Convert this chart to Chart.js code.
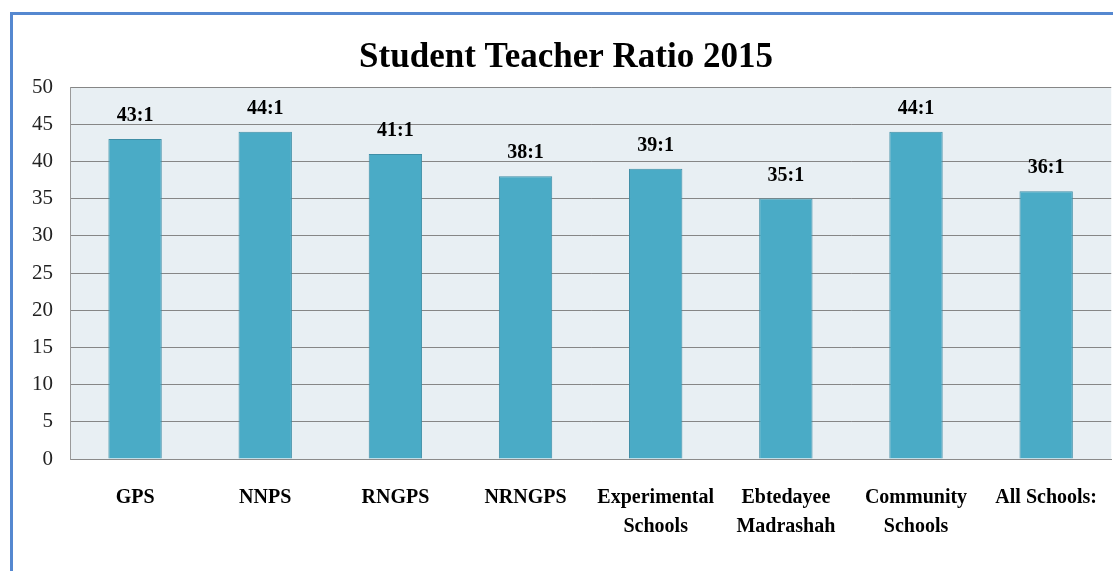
<!DOCTYPE html>
<html lang="en">
<head>
    <meta charset="UTF-8">
    <title>Student Teacher Ratio 2015</title>
    <script src="https://cdn.jsdelivr.net/npm/chart.js"></script>
    <style>
        body { margin: 0; background: #fff; }
        #wrap { position: relative; width: 1113px; height: 571px; overflow: hidden; }
        #frame {
            position: absolute; left: 10px; top: 12px; width: 1200px; height: 700px;
            border-left: 3px solid #5588d0; border-top: 3px solid #5588d0;
            pointer-events: none;
        }
    </style>
</head>
<body>
    <div id="wrap">
        <canvas id="ratio-chart" width="1113" height="571"></canvas>
        <div id="frame"></div>
    </div>

    <script>
        const categories = ['GPS', 'NNPS', 'RNGPS', 'NRNGPS', ['Experimental', 'Schools'],
            ['Ebtedayee', 'Madrashah'], ['Community', 'Schools'], 'All Schools:'];
        const ratios = [43, 44, 41, 38, 39, 35, 44, 36];
        const yTicks = [0, 5, 10, 15, 20, 25, 30, 35, 40, 45, 50];

        const serif = '"Liberation Serif", "Times New Roman", serif';

        // light plot background
        const plotBg = {
            id: 'plotBg',
            beforeDraw(chart) {
                const a = chart.chartArea, ctx = chart.ctx;
                ctx.save();
                ctx.fillStyle = '#e8eff3';
                ctx.fillRect(a.left, a.top, a.right - a.left, a.bottom - a.top);
                ctx.restore();
            }
        };

        // "43:1" style labels above bars
        const ratioLabels = {
            id: 'ratioLabels',
            afterDatasetsDraw(chart) {
                const ctx = chart.ctx;
                const meta = chart.getDatasetMeta(0);
                ctx.save();
                ctx.font = 'bold 20px ' + serif;
                ctx.fillStyle = '#000';
                ctx.textAlign = 'center';
                ctx.textBaseline = 'middle';
                meta.data.forEach((bar, i) => {
                    ctx.fillText(ratios[i] + ':1', bar.x, bar.y - 23);
                });
                ctx.restore();
            }
        };

        new Chart(document.getElementById('ratio-chart'), {
            type: 'bar',
            data: {
                labels: categories,
                datasets: [{
                    data: ratios,
                    backgroundColor: '#4aabc6',
                    borderColor: '#3f8ea6',
                    borderWidth: 1,
                    categoryPercentage: 1,
                    barPercentage: 0.41
                }]
            },
            options: {
                responsive: false,
                animation: false,
                layout: { padding: { left: 15, right: -4, top: 0, bottom: 14 } },
                plugins: {
                    legend: { display: false },
                    tooltip: { enabled: false },
                    title: {
                        display: true,
                        text: 'Student Teacher Ratio 2015',
                        color: '#000',
                        font: { family: serif, size: 35, weight: 'bold' },
                        padding: { top: 37, bottom: 8 }
                    }
                },
                scales: {
                    x: {
                        grid: { display: false },
                        border: { display: true, color: '#8a8a8a' },
                        ticks: {
                            color: '#000',
                            padding: 16,
                            maxRotation: 0,
                            autoSkip: false,
                            font: { family: serif, size: 20, weight: 'bold', lineHeight: 1.45 }
                        }
                    },
                    y: {
                        min: 0,
                        max: 50,
                        afterBuildTicks(axis) { axis.ticks = yTicks.map(v => ({ value: v })); },
                        grid: { color: '#868686', drawTicks: false },
                        border: { display: true, color: '#9a9a9a' },
                        ticks: {
                            color: '#222',
                            padding: 17,
                            font: { family: serif, size: 21 }
                        }
                    }
                }
            },
            plugins: [plotBg, ratioLabels]
        });
    </script>
</body>
</html>
